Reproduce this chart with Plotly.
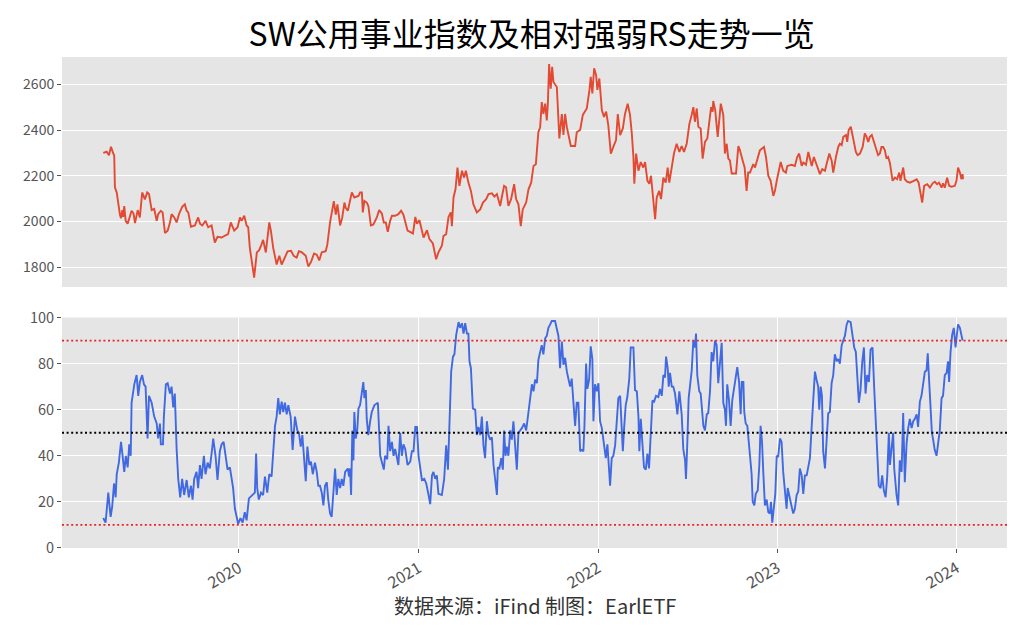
import math
import pandas as pd
import plotly.graph_objects as go

# ---------------- data ----------------
# dates are given as decimal years
index_time = [
    2019.244, 2019.263, 2019.276, 2019.287, 2019.300, 2019.305, 2019.309, 2019.319, 2019.337, 2019.343,
    2019.350, 2019.355, 2019.361, 2019.369, 2019.380, 2019.389, 2019.402, 2019.413, 2019.421, 2019.436,
    2019.448, 2019.461, 2019.476, 2019.489, 2019.499, 2019.514, 2019.528, 2019.542, 2019.550, 2019.565,
    2019.575, 2019.588, 2019.603, 2019.616, 2019.625, 2019.640, 2019.653, 2019.666, 2019.684, 2019.699,
    2019.709, 2019.718, 2019.733, 2019.755, 2019.773, 2019.784, 2019.796, 2019.814, 2019.829, 2019.848,
    2019.866, 2019.881, 2019.904, 2019.926, 2019.940, 2019.955, 2019.974, 2019.993, 2020.006, 2020.015,
    2020.030, 2020.043, 2020.052, 2020.061, 2020.085, 2020.100, 2020.113, 2020.126, 2020.135, 2020.150,
    2020.158, 2020.169, 2020.178, 2020.191, 2020.210, 2020.225, 2020.238, 2020.256, 2020.271, 2020.290,
    2020.305, 2020.321, 2020.334, 2020.349, 2020.372, 2020.386, 2020.401, 2020.418, 2020.433, 2020.447,
    2020.461, 2020.483, 2020.492, 2020.507, 2020.520, 2020.528, 2020.539, 2020.548, 2020.563, 2020.575,
    2020.587, 2020.594, 2020.606, 2020.614, 2020.628, 2020.642, 2020.665, 2020.674, 2020.684, 2020.689,
    2020.698, 2020.711, 2020.720, 2020.734, 2020.748, 2020.767, 2020.780, 2020.795, 2020.806, 2020.817,
    2020.828, 2020.841, 2020.851, 2020.869, 2020.887, 2020.902, 2020.915, 2020.938, 2020.968, 2020.981,
    2020.990, 2021.004, 2021.018, 2021.027, 2021.046, 2021.060, 2021.079, 2021.097, 2021.110, 2021.129,
    2021.138, 2021.153, 2021.166, 2021.179, 2021.185, 2021.194, 2021.205, 2021.216, 2021.227, 2021.241,
    2021.253, 2021.263, 2021.277, 2021.291, 2021.305, 2021.324, 2021.343, 2021.358, 2021.376, 2021.389,
    2021.408, 2021.422, 2021.436, 2021.454, 2021.463, 2021.476, 2021.487, 2021.500, 2021.515, 2021.532,
    2021.543, 2021.556, 2021.569, 2021.580, 2021.599, 2021.612, 2021.627, 2021.640, 2021.653, 2021.667,
    2021.677, 2021.686, 2021.695, 2021.705, 2021.714, 2021.720, 2021.727, 2021.736, 2021.744, 2021.751,
    2021.770, 2021.784, 2021.798, 2021.807, 2021.816, 2021.826, 2021.848, 2021.872, 2021.881, 2021.900,
    2021.915, 2021.928, 2021.937, 2021.952, 2021.959, 2021.968, 2021.978, 2021.989, 2021.996, 2022.007,
    2022.021, 2022.033, 2022.045, 2022.057, 2022.071, 2022.085, 2022.100, 2022.110, 2022.123, 2022.138,
    2022.150, 2022.165, 2022.178, 2022.188, 2022.197, 2022.202, 2022.212, 2022.225, 2022.238, 2022.252,
    2022.262, 2022.275, 2022.286, 2022.295, 2022.305, 2022.318, 2022.327, 2022.341, 2022.351, 2022.364,
    2022.377, 2022.388, 2022.397, 2022.411, 2022.423, 2022.438, 2022.453, 2022.466, 2022.479, 2022.494,
    2022.509, 2022.522, 2022.531, 2022.540, 2022.550, 2022.559, 2022.572, 2022.583, 2022.596, 2022.609,
    2022.620, 2022.630, 2022.639, 2022.642, 2022.653, 2022.667, 2022.684, 2022.698, 2022.707, 2022.717,
    2022.726, 2022.735, 2022.745, 2022.769, 2022.782, 2022.791, 2022.806, 2022.817, 2022.828, 2022.837,
    2022.847, 2022.865, 2022.875, 2022.893, 2022.902, 2022.925, 2022.936, 2022.949, 2022.962, 2022.977,
    2022.986, 2022.996, 2023.010, 2023.018, 2023.032, 2023.047, 2023.055, 2023.079, 2023.097, 2023.110,
    2023.121, 2023.135, 2023.144, 2023.159, 2023.172, 2023.181, 2023.191, 2023.203, 2023.218, 2023.237,
    2023.250, 2023.265, 2023.274, 2023.289, 2023.302, 2023.311, 2023.326, 2023.339, 2023.348, 2023.358,
    2023.367, 2023.382, 2023.389, 2023.397, 2023.409, 2023.419, 2023.426, 2023.437, 2023.447, 2023.460,
    2023.475, 2023.487, 2023.497, 2023.506, 2023.515, 2023.526, 2023.543, 2023.561, 2023.571, 2023.580,
    2023.589, 2023.599, 2023.608, 2023.617, 2023.627, 2023.636, 2023.642, 2023.655, 2023.667, 2023.679,
    2023.686, 2023.701, 2023.710, 2023.723, 2023.738, 2023.760, 2023.776, 2023.787, 2023.798, 2023.807,
    2023.818, 2023.835, 2023.850, 2023.865, 2023.877, 2023.890, 2023.901, 2023.915, 2023.923, 2023.933,
    2023.946, 2023.957, 2023.970, 2023.989, 2023.998, 2024.007, 2024.017, 2024.026, 2024.032, 2024.035,
]
index_value = [
    2300, 2305, 2290, 2327, 2297, 2290, 2150, 2127, 2030, 2015,
    2050, 2020, 2068, 2003, 1990, 2015, 2047, 2035, 1993, 2050,
    2018, 2127, 2097, 2127, 2120, 2050, 2055, 2003, 2032, 2047,
    2040, 1950, 1960, 1996, 2032, 2018, 1996, 2032, 2064, 2075,
    2047, 2040, 1977, 1983, 2018, 1990, 1983, 2003, 1975, 1983,
    1908, 1933, 1930, 1940, 1945, 1996, 1960, 1975, 2018, 2003,
    2025, 1983, 1975, 1885, 1755, 1865, 1875, 1900, 1920, 1865,
    1930, 1996, 1960, 1885, 1812, 1850, 1812, 1842, 1870, 1872,
    1850, 1842, 1870, 1866, 1850, 1804, 1823, 1860, 1855, 1830,
    1866, 1870, 1900, 1996, 2047, 2089, 2030, 2075, 1983, 2018,
    2083, 2060, 2047, 2075, 2127, 2105, 2112, 2127, 2127, 2040,
    2090, 2083, 2068, 1983, 1987, 2018, 2050, 2035, 1996, 1996,
    1955, 2003, 2025, 2025, 2032, 2047, 2030, 1960, 1948, 2020,
    1990, 2006, 1966, 1930, 1962, 1923, 1904, 1835, 1865, 1894,
    1937, 1945, 2020, 2040, 1980, 2105, 2141, 2236, 2156, 2222,
    2192, 2222, 2170, 2134, 2075, 2040, 2053, 2083, 2098, 2120,
    2123, 2109, 2120, 2068, 2105, 2156, 2150, 2068, 2098, 2163,
    2098, 2075, 1980, 2053, 2083, 2141, 2170, 2243, 2250, 2390,
    2412, 2522, 2470, 2515, 2442, 2515, 2688, 2580, 2676, 2610,
    2588, 2363, 2470, 2378, 2470, 2412, 2330, 2330, 2390, 2400,
    2466, 2480, 2494, 2575, 2632, 2560, 2670, 2640, 2575, 2625,
    2487, 2457, 2480, 2420, 2297, 2326, 2356, 2470, 2378, 2407,
    2470, 2515, 2466, 2385, 2282, 2165, 2297, 2222, 2260, 2236,
    2260, 2178, 2165, 2200, 2105, 2010, 2105, 2134, 2098, 2192,
    2170, 2236, 2170, 2243, 2297, 2340, 2304, 2330, 2304, 2340,
    2427, 2466, 2500, 2436, 2494, 2414, 2407, 2275, 2348, 2363,
    2450, 2500, 2480, 2527, 2487, 2370, 2515, 2466, 2297, 2340,
    2275, 2267, 2210, 2210, 2330, 2311, 2267, 2236, 2134, 2214,
    2214, 2251, 2236, 2290, 2311, 2326, 2282, 2200, 2178, 2112,
    2134, 2178, 2236, 2260, 2222, 2214, 2243, 2248, 2243, 2282,
    2297, 2243, 2258, 2248, 2304, 2275, 2243, 2282, 2251, 2207,
    2229, 2222, 2251, 2297, 2267, 2214, 2282, 2326, 2340, 2334,
    2370, 2378, 2348, 2400, 2414, 2363, 2348, 2304, 2290, 2297,
    2326, 2385, 2370, 2348, 2370, 2378, 2340, 2290, 2297, 2326,
    2326, 2311, 2275, 2282, 2256, 2214, 2178, 2192, 2185, 2214,
    2178, 2236, 2185, 2174, 2170, 2178, 2185, 2170, 2120, 2083,
    2156, 2163, 2148, 2167, 2174, 2163, 2170, 2148, 2167, 2148,
    2192, 2156, 2152, 2156, 2178, 2236, 2214, 2185, 2207, 2185,
]

rs_time = [
    2019.244, 2019.257, 2019.272, 2019.285, 2019.294, 2019.304, 2019.313, 2019.319, 2019.331, 2019.343,
    2019.352, 2019.361, 2019.370, 2019.380, 2019.389, 2019.397, 2019.402, 2019.408, 2019.417, 2019.430,
    2019.439, 2019.448, 2019.461, 2019.471, 2019.480, 2019.491, 2019.499, 2019.514, 2019.528, 2019.542,
    2019.550, 2019.560, 2019.565, 2019.577, 2019.582, 2019.593, 2019.603, 2019.616, 2019.625, 2019.634,
    2019.643, 2019.653, 2019.662, 2019.673, 2019.684, 2019.695, 2019.709, 2019.721, 2019.733, 2019.742,
    2019.751, 2019.764, 2019.773, 2019.783, 2019.792, 2019.805, 2019.814, 2019.826, 2019.838, 2019.851,
    2019.857, 2019.870, 2019.881, 2019.894, 2019.904, 2019.915, 2019.928, 2019.937, 2019.950, 2019.959,
    2019.968, 2019.978, 2019.987, 2019.996, 2020.009, 2020.021, 2020.033, 2020.043, 2020.056, 2020.071,
    2020.089, 2020.096, 2020.102, 2020.111, 2020.123, 2020.135, 2020.145, 2020.158, 2020.169, 2020.182,
    2020.191, 2020.201, 2020.210, 2020.219, 2020.228, 2020.238, 2020.247, 2020.256, 2020.266, 2020.275,
    2020.288, 2020.299, 2020.312, 2020.325, 2020.334, 2020.344, 2020.353, 2020.362, 2020.372, 2020.381,
    2020.392, 2020.401, 2020.411, 2020.423, 2020.433, 2020.442, 2020.451, 2020.461, 2020.470, 2020.479,
    2020.489, 2020.497, 2020.507, 2020.516, 2020.525, 2020.535, 2020.544, 2020.553, 2020.563, 2020.572,
    2020.581, 2020.591, 2020.606, 2020.613, 2020.618, 2020.624, 2020.631, 2020.637, 2020.642, 2020.650,
    2020.659, 2020.665, 2020.674, 2020.684, 2020.692, 2020.698, 2020.706, 2020.711, 2020.720, 2020.730,
    2020.739, 2020.754, 2020.773, 2020.786, 2020.798, 2020.806, 2020.813, 2020.825, 2020.832, 2020.841,
    2020.851, 2020.860, 2020.869, 2020.879, 2020.887, 2020.897, 2020.906, 2020.915, 2020.925, 2020.938,
    2020.953, 2020.962, 2020.971, 2020.981, 2020.990, 2020.999, 2021.008, 2021.018, 2021.031, 2021.042,
    2021.055, 2021.064, 2021.074, 2021.082, 2021.092, 2021.101, 2021.110, 2021.129, 2021.142, 2021.153,
    2021.163, 2021.172, 2021.181, 2021.191, 2021.199, 2021.209, 2021.222, 2021.231, 2021.241, 2021.250,
    2021.259, 2021.269, 2021.277, 2021.283, 2021.291, 2021.302, 2021.315, 2021.324, 2021.333, 2021.343,
    2021.352, 2021.361, 2021.370, 2021.380, 2021.389, 2021.398, 2021.408, 2021.417, 2021.426, 2021.436,
    2021.441, 2021.450, 2021.460, 2021.469, 2021.476, 2021.484, 2021.491, 2021.500, 2021.510, 2021.519,
    2021.528, 2021.538, 2021.547, 2021.556, 2021.575, 2021.588, 2021.599, 2021.612, 2021.621, 2021.631,
    2021.640, 2021.649, 2021.659, 2021.667, 2021.677, 2021.686, 2021.695, 2021.705, 2021.714, 2021.723,
    2021.733, 2021.742, 2021.760, 2021.770, 2021.779, 2021.788, 2021.798, 2021.807, 2021.816, 2021.826,
    2021.835, 2021.844, 2021.853, 2021.862, 2021.872, 2021.881, 2021.890, 2021.900, 2021.909, 2021.918,
    2021.924, 2021.933, 2021.940, 2021.950, 2021.959, 2021.968, 2021.974, 2021.983, 2021.993, 2022.002,
    2022.011, 2022.021, 2022.033, 2022.043, 2022.052, 2022.061, 2022.067, 2022.076, 2022.085, 2022.095,
    2022.104, 2022.113, 2022.123, 2022.128, 2022.138, 2022.145, 2022.154, 2022.163, 2022.174, 2022.182,
    2022.197, 2022.206, 2022.216, 2022.225, 2022.230, 2022.238, 2022.247, 2022.256, 2022.266, 2022.275,
    2022.284, 2022.294, 2022.303, 2022.312, 2022.323, 2022.336, 2022.345, 2022.355, 2022.364, 2022.373,
    2022.379, 2022.388, 2022.394, 2022.401, 2022.411, 2022.419, 2022.429, 2022.442, 2022.453, 2022.466,
    2022.475, 2022.485, 2022.490, 2022.497, 2022.505, 2022.522, 2022.531, 2022.540, 2022.546, 2022.553,
    2022.564, 2022.572, 2022.587, 2022.596, 2022.606, 2022.614, 2022.624, 2022.633, 2022.642, 2022.652,
    2022.661, 2022.670, 2022.680, 2022.689, 2022.698, 2022.707, 2022.713, 2022.720, 2022.730, 2022.739,
    2022.748, 2022.758, 2022.767, 2022.776, 2022.786, 2022.795, 2022.801, 2022.810, 2022.815, 2022.823,
    2022.832, 2022.840, 2022.847, 2022.856, 2022.862, 2022.871, 2022.879, 2022.890, 2022.899, 2022.906,
    2022.914, 2022.921, 2022.930, 2022.940, 2022.949, 2022.958, 2022.964, 2022.971, 2022.980, 2022.988,
    2022.996, 2023.004, 2023.014, 2023.023, 2023.032, 2023.042, 2023.051, 2023.057, 2023.070, 2023.079,
    2023.088, 2023.097, 2023.107, 2023.116, 2023.125, 2023.135, 2023.144, 2023.153, 2023.163, 2023.172,
    2023.181, 2023.191, 2023.199, 2023.209, 2023.218, 2023.227, 2023.233, 2023.241, 2023.248, 2023.255,
    2023.265, 2023.274, 2023.283, 2023.292, 2023.302, 2023.311, 2023.320, 2023.330, 2023.339, 2023.348,
    2023.358, 2023.367, 2023.376, 2023.386, 2023.394, 2023.408, 2023.419, 2023.428, 2023.437, 2023.447,
    2023.454, 2023.463, 2023.473, 2023.482, 2023.491, 2023.500, 2023.510, 2023.519, 2023.530, 2023.539,
    2023.549, 2023.556, 2023.565, 2023.575, 2023.584, 2023.593, 2023.603, 2023.612, 2023.621, 2023.627,
    2023.636, 2023.645, 2023.651, 2023.658, 2023.664, 2023.673, 2023.682, 2023.692, 2023.701, 2023.710,
    2023.720, 2023.729, 2023.738, 2023.748, 2023.757, 2023.766, 2023.776, 2023.784, 2023.794, 2023.803,
    2023.812, 2023.822, 2023.831, 2023.838, 2023.846, 2023.853, 2023.861, 2023.868, 2023.877, 2023.887,
    2023.896, 2023.905, 2023.915, 2023.923, 2023.933, 2023.943, 2023.951, 2023.957, 2023.965, 2023.974,
    2023.983, 2023.993, 2023.998, 2024.007, 2024.017, 2024.026, 2024.032,
]
rs_value = [
    13, 11, 24, 13.5, 18, 28, 22, 32, 37, 46,
    40, 33, 40, 35, 45, 40, 63, 67, 71, 75,
    66, 72, 75, 71, 70, 47.5, 66, 63, 57, 54,
    47.5, 54, 45, 45, 57, 71, 71.5, 67, 70, 61,
    67, 43, 30, 22, 30, 23, 29.5, 22, 27, 21,
    30, 33, 26, 36, 30, 40, 32, 37, 34.5, 43,
    47.5, 40, 29.5, 42, 45, 46, 40, 34, 35, 29.5,
    26, 17, 13, 10.5, 13, 11, 15.5, 12, 21.5, 22.5,
    24, 41, 26, 21, 24, 23, 31, 24, 32, 31,
    40, 53, 57, 65, 58, 63.5, 59, 63, 58, 62,
    57, 42.5, 57, 51, 50, 44, 49, 41, 29, 44,
    36, 37.5, 32, 37, 33, 27, 27, 24, 18.5, 27,
    28.5, 21, 15, 13.5, 24, 34.5, 23, 30, 26, 30,
    27, 33, 34.5, 31, 34.5, 23, 51, 38, 59, 47.5,
    52, 60.5, 62, 67, 72, 65, 68.5, 56, 49, 55,
    59, 62, 63, 40, 37, 34, 40, 38.5, 53, 42,
    46, 40, 43, 38.5, 36, 50, 40, 45, 43, 36,
    37.5, 42, 42, 52.5, 52.5, 40, 34.5, 29.5, 30, 28,
    23, 19, 31.5, 33, 30, 31.5, 23.5, 23, 30, 44.5,
    34, 59, 76.5, 83, 84, 92.5, 98, 95.5, 97.5, 93,
    97.5, 93, 93, 81, 78, 60.5, 60, 49, 52.5, 49,
    57, 44.5, 39, 55, 49, 47, 48, 36, 30, 23,
    35, 34.5, 39, 34, 51, 40, 44, 40, 51, 47,
    55, 45.5, 34, 50, 52, 54, 51, 59, 64, 71,
    68, 73, 71.5, 81.5, 85, 88, 84, 91, 92, 95.5,
    97, 98.5, 98.5, 95.5, 92, 78, 89.5, 79.5, 82.5, 76.5,
    73, 70, 73.5, 63, 53, 63, 63, 42, 42.5, 42,
    53, 80, 69, 73, 87.5, 82, 55, 71, 68, 71.5,
    55, 52, 45, 39, 45, 34.5, 27, 39, 40, 44.5,
    53, 65, 66, 58, 42, 52, 62, 65.5, 73.5, 87,
    87, 68.5, 68, 57, 42, 56, 45, 35, 34, 41,
    34.5, 54, 64, 63.5, 66, 65.5, 69, 66, 75, 74,
    83, 78, 70, 76, 70, 70, 67, 58, 68, 58,
    43, 38, 30, 44.5, 65, 77, 90, 87, 93, 75,
    68, 67, 53, 51, 58, 58.5, 68, 85, 81, 90,
    88, 71.5, 79.5, 89, 63, 60, 53, 71, 64, 53,
    64, 68.5, 73.5, 78.5, 72, 58, 72, 72, 59, 54,
    53, 47.5, 40, 32, 20, 18.5, 23.5, 25, 36, 53,
    46, 33, 18.5, 21, 15.5, 15, 20, 11, 17, 23.5,
    40, 39.5, 47.5, 46, 33, 25, 17, 26, 22, 18,
    15, 17, 23, 24.5, 34.5, 31.5, 23.5, 31.5, 31.5, 36,
    39, 53, 66, 76.5, 73, 70, 60, 70, 66, 42,
    34.5, 47.5, 58.5, 59, 71.5, 75, 84, 81, 82, 80,
    88, 90, 92, 97, 98.5, 98, 92.5, 87, 85, 68,
    63, 68.5, 81, 87, 67, 75, 72, 86, 87, 70,
    53, 44.5, 27, 26, 31.5, 25, 22, 31, 50, 36,
    44, 50, 34.5, 26, 23, 18.5, 38, 33, 58.5, 28.5,
    45.5, 52, 56, 52, 55, 56, 58, 52.5, 63.5, 66,
    71, 76.5, 77, 84.5, 72, 59, 50, 47, 42.5, 40,
    47, 51, 65, 66, 75, 76, 81, 72, 85, 92.5,
    95.5, 87, 91, 97, 95.5, 92.5, 90,
]

year_ticks = [2020, 2021, 2022, 2023, 2024]
rs_levels = [90, 50, 10]
rs_level_colors = ["#E8242A", "black", "#E8242A"]
title_text = "SW公用事业指数及相对强弱RS走势一览"
source_text = "数据来源：iFind 制图：EarlETF"


def to_date(y):
    yr = int(math.floor(y))
    start = pd.Timestamp(yr, 1, 1)
    end = pd.Timestamp(yr + 1, 1, 1)
    return start + (end - start) * (y - yr)


idx_dates = [to_date(t) for t in index_time]
rs_dates = [to_date(t) for t in rs_time]
x_range = [to_date(2019.014), to_date(2024.279)]

FONT = "Noto Sans CJK SC"
TICK = "#555555"

fig = go.Figure()
fig.add_trace(go.Scatter(x=idx_dates, y=index_value, mode="lines",
                         line=dict(color="#E24A33", width=1.9),
                         xaxis="x2", yaxis="y2", hoverinfo="skip"))
fig.add_trace(go.Scatter(x=rs_dates, y=rs_value, mode="lines",
                         line=dict(color="#4169E1", width=1.9),
                         xaxis="x", yaxis="y", hoverinfo="skip"))

for lvl, col in zip(rs_levels, rs_level_colors):
    fig.add_shape(type="line", xref="x domain", yref="y", x0=0, x1=1, y0=lvl, y1=lvl,
                  line=dict(color=col, width=1.8, dash="2px,2.6px"), layer="above")

# the page body adds an 8px offset; size the figure so the plot lands where the original does
fig.update_layout(
    width=1016, height=624,
    margin=dict(l=54, r=17, t=49, b=84, autoexpand=False),
    paper_bgcolor="white", plot_bgcolor="#E5E5E5",
    showlegend=False,
    font=dict(family=FONT, color=TICK),
    title=dict(text=title_text, x=0.497, xref="paper", xanchor="center",
               y=1 - 27 / 624, yanchor="middle", automargin=False,
               font=dict(family=FONT, size=32, color="black")),
    xaxis=dict(domain=[0, 1], anchor="y", type="date", range=x_range,
               tickvals=[pd.Timestamp(y, 1, 1) for y in year_ticks],
               ticktext=[str(y) for y in year_ticks],
               tickangle=-30, ticks="outside", ticklen=4, tickcolor=TICK,
               tickfont=dict(size=16, color=TICK, family=FONT),
               showgrid=True, gridcolor="white", gridwidth=1, zeroline=False,
               showline=False, automargin=False),
    xaxis2=dict(domain=[0, 1], anchor="y2", type="date", range=x_range,
                matches="x", showticklabels=False, ticks="", showgrid=False,
                zeroline=False, showline=False, automargin=False),
    yaxis=dict(domain=[0, 0.4695], anchor="x", range=[0, 100],
               tickvals=[0, 20, 40, 60, 80, 100], ticks="outside", ticklen=4,
               tickcolor=TICK, tickfont=dict(size=14.5, color=TICK, family=FONT),
               showgrid=True, gridcolor="white", gridwidth=1, zeroline=False,
               automargin=False),
    yaxis2=dict(domain=[0.5316, 1], anchor="x2", range=[1714, 2719],
                tickvals=[1800, 2000, 2200, 2400, 2600], ticks="outside", ticklen=4,
                tickcolor=TICK, tickfont=dict(size=14, color=TICK, family=FONT),
                showgrid=True, gridcolor="white", gridwidth=1, zeroline=False,
                automargin=False),
)

fig.add_annotation(text=source_text, xref="paper", yref="paper", x=0.5, y=-0.118,
                   xanchor="center", yanchor="middle", showarrow=False,
                   font=dict(family=FONT, size=20, color="#333333"))

fig.write_html("out.html")
